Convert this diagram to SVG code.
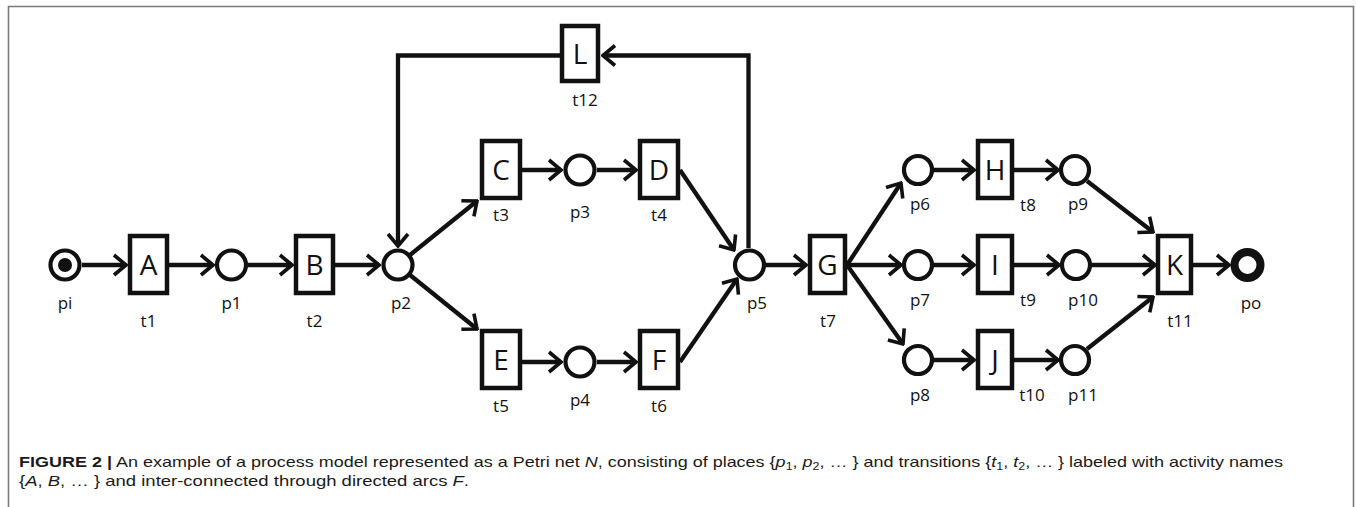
<svg xmlns="http://www.w3.org/2000/svg" width="1356" height="507" viewBox="0 0 1356 507">
<style>
.frame{fill:none;stroke:#7a7a7a;stroke-width:1.6}
.tr{fill:#fff;stroke:#111;stroke-width:4.5}
.pl{fill:#fff;stroke:#111;stroke-width:4.2}
.big{font-family:"Open Sans","DejaVu Sans",sans-serif;font-size:28px;fill:#111;text-anchor:middle}
.lab{font-family:"Open Sans","DejaVu Sans",sans-serif;font-size:17px;fill:#111;text-anchor:middle}
.arc{fill:none;stroke:#111;stroke-width:4.3;marker-end:url(#ah)}
.cap{font-family:"Liberation Sans",Arial,sans-serif;font-size:14.5px;fill:#1a1a1a}
</style>
<defs>
<marker id="ah" markerUnits="userSpaceOnUse" viewBox="0 0 16 24" refX="14" refY="12" markerWidth="16" markerHeight="24" orient="auto">
<path d="M2,2 L14,12 L2,22" fill="none" stroke="#111" stroke-width="3.6" stroke-linejoin="miter"/>
</marker>
</defs>
<rect width="1356" height="507" fill="#fff"/>
<path class="frame" d="M8.5,507 V6.5 H1353.5 V507"/>

<g id="connectors">
<line class="arc" x1="82" y1="265" x2="126" y2="265"/>
<line class="arc" x1="169" y1="265" x2="213" y2="265"/>
<line class="arc" x1="248" y1="265" x2="292" y2="265"/>
<line class="arc" x1="335" y1="265" x2="379" y2="265"/>
<line class="arc" x1="410" y1="255" x2="477" y2="201"/>
<line class="arc" x1="410" y1="275" x2="477" y2="329"/>
<line class="arc" x1="522" y1="170" x2="561" y2="170"/>
<line class="arc" x1="597" y1="170" x2="636" y2="170"/>
<line class="arc" x1="680" y1="170" x2="734" y2="250"/>
<line class="arc" x1="522" y1="362" x2="561" y2="362"/>
<line class="arc" x1="597" y1="362" x2="636" y2="362"/>
<line class="arc" x1="680" y1="362" x2="737" y2="279"/>
<line class="arc" x1="766" y1="265" x2="806" y2="265"/>
<polyline class="arc" stroke-width="5" points="748.5,248 748.5,55.5 603,55.5"/>
<polyline class="arc" stroke-width="5" points="560,55.5 398,55.5 398,246"/>
<line class="arc" x1="847" y1="265" x2="901" y2="183"/>
<line class="arc" x1="847" y1="265" x2="901" y2="265"/>
<line class="arc" x1="847" y1="265" x2="903" y2="344"/>
<line class="arc" x1="933" y1="170" x2="974" y2="170"/>
<line class="arc" x1="1014" y1="170" x2="1058" y2="170"/>
<line class="arc" x1="933" y1="265" x2="974" y2="265"/>
<line class="arc" x1="1014" y1="265" x2="1059" y2="265"/>
<line class="arc" x1="933" y1="360" x2="974" y2="360"/>
<line class="arc" x1="1014" y1="360" x2="1058" y2="360"/>
<line class="arc" x1="1087" y1="181" x2="1153" y2="232"/>
<line class="arc" x1="1092" y1="265" x2="1155" y2="265"/>
<line class="arc" x1="1087" y1="349" x2="1153" y2="297"/>
<line class="arc" x1="1193" y1="265" x2="1229" y2="265"/>
</g>

<g id="pi"><circle class="pl" cx="65" cy="265" r="14.5"/><circle cx="65" cy="265" r="7" fill="#111"/><text class="lab" x="65" y="309">pi</text></g>
<g id="t1"><rect class="tr" x="130" y="236" width="37" height="57"/><text class="big" x="148.5" y="275">A</text><text class="lab" x="148.5" y="327">t1</text></g>
<g id="p1"><circle class="pl" cx="231.5" cy="265" r="14.5"/><text class="lab" x="231.5" y="309">p1</text></g>
<g id="t2"><rect class="tr" x="296" y="236" width="37" height="57"/><text class="big" x="314.5" y="275">B</text><text class="lab" x="314.5" y="327">t2</text></g>
<g id="p2"><circle class="pl" cx="398" cy="265" r="14.5"/><text class="lab" x="401" y="309">p2</text></g>
<g id="t3"><rect class="tr" x="482" y="141" width="38" height="57"/><text class="big" x="501" y="180">C</text><text class="lab" x="501" y="221">t3</text></g>
<g id="p3"><circle class="pl" cx="580" cy="170" r="14.5"/><text class="lab" x="580" y="218">p3</text></g>
<g id="t4"><rect class="tr" x="640" y="141" width="38" height="57"/><text class="big" x="659" y="180">D</text><text class="lab" x="659" y="221">t4</text></g>
<g id="t5"><rect class="tr" x="482" y="331" width="38" height="57"/><text class="big" x="501" y="370">E</text><text class="lab" x="501" y="412">t5</text></g>
<g id="p4"><circle class="pl" cx="580" cy="362" r="14.5"/><text class="lab" x="580" y="406">p4</text></g>
<g id="t6"><rect class="tr" x="640" y="331" width="38" height="57"/><text class="big" x="659" y="370">F</text><text class="lab" x="659" y="412">t6</text></g>
<g id="p5"><circle class="pl" cx="749.5" cy="265" r="14.5"/><text class="lab" x="757" y="309">p5</text></g>
<g id="t12"><rect class="tr" x="562" y="26" width="36" height="55"/><text class="big" x="580" y="64">L</text><text class="lab" x="585" y="106">t12</text></g>
<g id="t7"><rect class="tr" x="810" y="236" width="35" height="57"/><text class="big" x="827.5" y="275">G</text><text class="lab" x="828" y="327">t7</text></g>
<g id="p6"><circle class="pl" cx="918" cy="170" r="14"/><text class="lab" x="920" y="210">p6</text></g>
<g id="t8"><rect class="tr" x="978" y="141" width="34" height="57"/><text class="big" x="995" y="180">H</text><text class="lab" x="1028" y="211">t8</text></g>
<g id="p9"><circle class="pl" cx="1075" cy="170" r="14"/><text class="lab" x="1078" y="210">p9</text></g>
<g id="p7"><circle class="pl" cx="918" cy="265" r="14"/><text class="lab" x="920" y="306">p7</text></g>
<g id="t9"><rect class="tr" x="978" y="236" width="34" height="57"/><text class="big" x="995" y="275">I</text><text class="lab" x="1028" y="306">t9</text></g>
<g id="p10"><circle class="pl" cx="1076" cy="265" r="14"/><text class="lab" x="1083" y="306">p10</text></g>
<g id="p8"><circle class="pl" cx="918" cy="360" r="14"/><text class="lab" x="920" y="401">p8</text></g>
<g id="t10"><rect class="tr" x="978" y="331" width="34" height="57"/><text class="big" x="995" y="370">J</text><text class="lab" x="1032" y="401">t10</text></g>
<g id="p11"><circle class="pl" cx="1075" cy="360" r="14"/><text class="lab" x="1083" y="401">p11</text></g>
<g id="t11"><rect class="tr" x="1158" y="236" width="33" height="57"/><text class="big" x="1174.5" y="275">K</text><text class="lab" x="1180" y="327">t11</text></g>
<g id="po"><circle cx="1247.5" cy="265" r="13" fill="#fff" stroke="#111" stroke-width="8"/><text class="lab" x="1251" y="309">po</text></g>

<g id="caption">
<text class="cap" x="19" y="467" textLength="1264" lengthAdjust="spacingAndGlyphs"><tspan font-weight="bold">FIGURE 2 |</tspan> An example of a process model represented as a Petri net <tspan font-style="italic">N</tspan>, consisting of places {<tspan font-style="italic">p</tspan><tspan font-size="10" dy="3">1</tspan><tspan dy="-3">, </tspan><tspan font-style="italic">p</tspan><tspan font-size="10" dy="3">2</tspan><tspan dy="-3">, … } and transitions {</tspan><tspan font-style="italic">t</tspan><tspan font-size="10" dy="3">1</tspan><tspan dy="-3">, </tspan><tspan font-style="italic">t</tspan><tspan font-size="10" dy="3">2</tspan><tspan dy="-3">, … } labeled with activity names</tspan></text>
<text class="cap" x="19" y="486" textLength="450" lengthAdjust="spacingAndGlyphs">{<tspan font-style="italic">A</tspan>, <tspan font-style="italic">B</tspan>, … } and inter-connected through directed arcs <tspan font-style="italic">F</tspan>.</text>
</g>
</svg>
